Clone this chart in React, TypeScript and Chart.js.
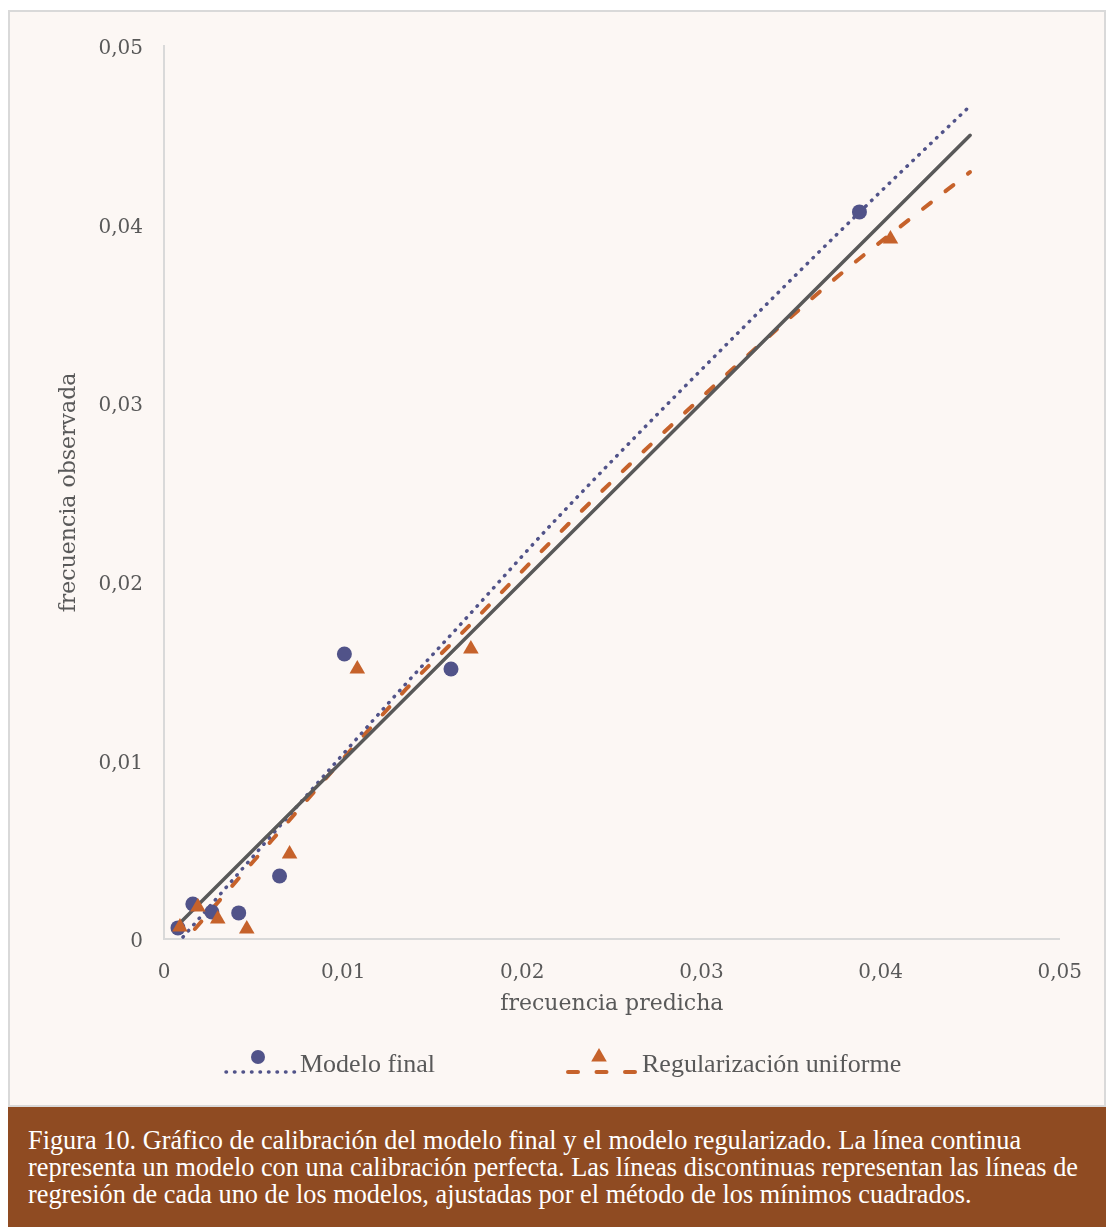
import React, { useEffect, useRef } from "react";
import { Chart, registerables } from "chart.js";

Chart.register(...registerables);

// ---- Data ----
const modeloFinalX = [0.00078, 0.00161, 0.00267, 0.00417, 0.00645, 0.01007, 0.01602, 0.03882];
const modeloFinalY = [0.00062, 0.00196, 0.00151, 0.00146, 0.00353, 0.01596, 0.01512, 0.04071];

const regularizacionX = [0.00089, 0.00189, 0.003, 0.00462, 0.00701, 0.01079, 0.01713, 0.04055];
const regularizacionY = [0.00067, 0.00179, 0.00112, 0.00056, 0.00476, 0.01512, 0.01624, 0.03919];

// perfect calibration line (endpoints)
const perfectLineX = [0.00075, 0.045];
const perfectLineY = [0.00075, 0.045];

// fitted curves
const modeloFinalTrendX = [0.00106, 0.00617, 0.01324, 0.01663, 0.02191, 0.03482, 0.03999, 0.04499];
const modeloFinalTrendY = [0.00011, 0.00599, 0.014, 0.0177, 0.02352, 0.03673, 0.04183, 0.04664];
const regularizacionTrendX = [0.00172, 0.00603, 0.01352, 0.01663, 0.02308, 0.02876, 0.03454, 0.03804, 0.04171, 0.04499];
const regularizacionTrendY = [0.00056, 0.00554, 0.014, 0.01713, 0.02374, 0.02917, 0.03443, 0.03746, 0.04037, 0.04294];

const tickLabels = ["0", "0,01", "0,02", "0,03", "0,04", "0,05"];

const seriesNames = ["Modelo final", "Regularización uniforme"];
const xTitle = "frecuencia predicha";
const yTitle = "frecuencia observada";
const caption = [
  "Figura 10. Gráfico de calibración del modelo final y el modelo regularizado. La línea continua",
  "representa un modelo con una calibración perfecta. Las líneas discontinuas representan las líneas de",
  "regresión de cada uno de los modelos, ajustadas por el método de los mínimos cuadrados.",
];

const PURPLE = "#515389";
const ORANGE = "#C6622B";
const GREY = "#595959";
const AXIS = "#d9d9d9";

const zip = (xs: number[], ys: number[]) => xs.map((x, i) => ({ x, y: ys[i] }));

const legendPlugin = {
  id: "customLegend",
  afterDraw(chart: any) {
    const ctx = chart.ctx as CanvasRenderingContext2D;
    ctx.save();
    const items = [
      { name: seriesNames[0], x0: 216, x1: 285, mx: 248, tx: 290, color: PURPLE, dash: [0.5, 8], w: 3.5, marker: "circle" },
      { name: seriesNames[1], x0: 558, x1: 628, mx: 589, tx: 632, color: ORANGE, dash: [10, 18.5], w: 4, marker: "triangle" },
    ];
    const lineY = 1060;
    const markerY = 1045;
    const textY = 1053;
    for (const it of items) {
      ctx.strokeStyle = it.color;
      ctx.lineWidth = it.w;
      ctx.lineCap = "round";
      ctx.setLineDash(it.dash);
      ctx.beginPath();
      ctx.moveTo(it.x0, lineY);
      ctx.lineTo(it.x1, lineY);
      ctx.stroke();
      ctx.setLineDash([]);
      ctx.fillStyle = it.color;
      ctx.beginPath();
      if (it.marker === "circle") {
        ctx.arc(it.mx, markerY, 7, 0, Math.PI * 2);
      } else {
        const r = 9;
        ctx.moveTo(it.mx, markerY - r);
        ctx.lineTo(it.mx + r * Math.sin((2 * Math.PI) / 3), markerY + r / 2);
        ctx.lineTo(it.mx - r * Math.sin((2 * Math.PI) / 3), markerY + r / 2);
        ctx.closePath();
      }
      ctx.fill();
      ctx.fillStyle = GREY;
      ctx.font = "26px 'Liberation Serif'";
      ctx.textAlign = "left";
      ctx.textBaseline = "middle";
      ctx.fillText(it.name, it.tx, textY);
    }
    ctx.restore();
  },
};

export default function App() {
  const canvasRef = useRef<HTMLCanvasElement | null>(null);

  useEffect(() => {
    if (!canvasRef.current) return;
    const chart = new Chart(canvasRef.current, {
      type: "scatter",
      data: {
        datasets: [
          {
            label: seriesNames[1],
            data: zip(regularizacionX, regularizacionY),
            pointStyle: "triangle",
            pointRadius: 9,
            pointHoverRadius: 9,
            backgroundColor: ORANGE,
            borderColor: ORANGE,
            borderWidth: 0,
            showLine: false,
            order: 1,
          } as any,
          {
            label: seriesNames[0],
            data: zip(modeloFinalX, modeloFinalY),
            pointStyle: "circle",
            pointRadius: 7.5,
            pointHoverRadius: 7.5,
            backgroundColor: PURPLE,
            borderColor: PURPLE,
            borderWidth: 0,
            showLine: false,
            order: 2,
          },
          {
            label: "perfect",
            data: zip(perfectLineX, perfectLineY),
            showLine: true,
            pointRadius: 0,
            borderColor: GREY,
            borderWidth: 3.5,
            borderCapStyle: "round",
            order: 3,
          },
          {
            label: "trend final",
            data: zip(modeloFinalTrendX, modeloFinalTrendY),
            showLine: true,
            pointRadius: 0,
            borderColor: PURPLE,
            borderWidth: 3.5,
            borderCapStyle: "round",
            borderDash: [0.5, 7.7],
            cubicInterpolationMode: "monotone",
            order: 4,
          },
          {
            label: "trend reg",
            data: zip(regularizacionTrendX, regularizacionTrendY),
            showLine: true,
            pointRadius: 0,
            borderColor: ORANGE,
            borderWidth: 4,
            borderCapStyle: "round",
            borderDash: [10, 18.5],
            cubicInterpolationMode: "monotone",
            order: 5,
          },
        ],
      },
      options: {
        animation: false,
        responsive: true,
        maintainAspectRatio: false,
        layout: { padding: { left: 0, right: 41, top: 34, bottom: 66 } },
        plugins: {
          legend: { display: false },
          tooltip: { enabled: false },
        },
        scales: {
          x: {
            type: "linear",
            min: 0,
            max: 0.05,
            afterFit: (s: any) => {
              s.height = 100;
            },
            grid: { display: false, drawTicks: false },
            border: { display: true, color: AXIS, width: 2 },
            ticks: {
              stepSize: 0.01,
              padding: 22,
              color: GREY,
              font: { family: "'DejaVu Serif'", size: 20 },
              callback: (_v: any, i: number) => tickLabels[i],
            },
            title: {
              display: true,
              text: xTitle,
              color: GREY,
              font: { family: "'DejaVu Serif'", size: 22 },
              padding: { top: 0, bottom: 22 },
            },
          },
          y: {
            type: "linear",
            min: 0,
            max: 0.05,
            afterFit: (s: any) => {
              s.width = 154;
            },
            grid: { display: false, drawTicks: false },
            border: { display: true, color: AXIS, width: 2 },
            ticks: {
              stepSize: 0.01,
              padding: 21,
              labelOffset: 3,
              color: GREY,
              font: { family: "'DejaVu Serif'", size: 20 },
              callback: (_v: any, i: number) => tickLabels[i],
            },
            title: {
              display: true,
              text: yTitle,
              color: GREY,
              font: { family: "'DejaVu Serif'", size: 22 },
              padding: { top: 46, bottom: 0 },
            },
          },
        },
      },
      plugins: [legendPlugin],
    } as any);
    return () => chart.destroy();
  }, []);

  return (
    <div style={{ position: "relative", width: 1106, height: 1227 }}>
      <style>{`html,body{margin:0;padding:0;overflow:hidden;}`}</style>
      <div
        style={{
          position: "absolute",
          left: 8,
          top: 10,
          width: 1098,
          height: 1097,
          boxSizing: "border-box",
          border: `2px solid ${AXIS}`,
          background: "#FCF7F4",
        }}
      >
        <div style={{ position: "absolute", left: 0, top: 0, width: 1094, height: 1093 }}>
          <canvas ref={canvasRef} />
        </div>
      </div>
      <div
        style={{
          position: "absolute",
          left: 8,
          top: 1107,
          width: 1098,
          height: 120,
          boxSizing: "border-box",
          background: "#8F4B22",
          color: "#FFFFFF",
          paddingTop: 20,
          paddingLeft: 20,
          fontFamily: "'Liberation Serif', serif",
          fontSize: 26.3,
          lineHeight: "27px",
        }}
      >
        {caption.map((line, i) => (
          <div key={i} style={{ whiteSpace: "nowrap" }}>
            {line}
          </div>
        ))}
      </div>
    </div>
  );
}
